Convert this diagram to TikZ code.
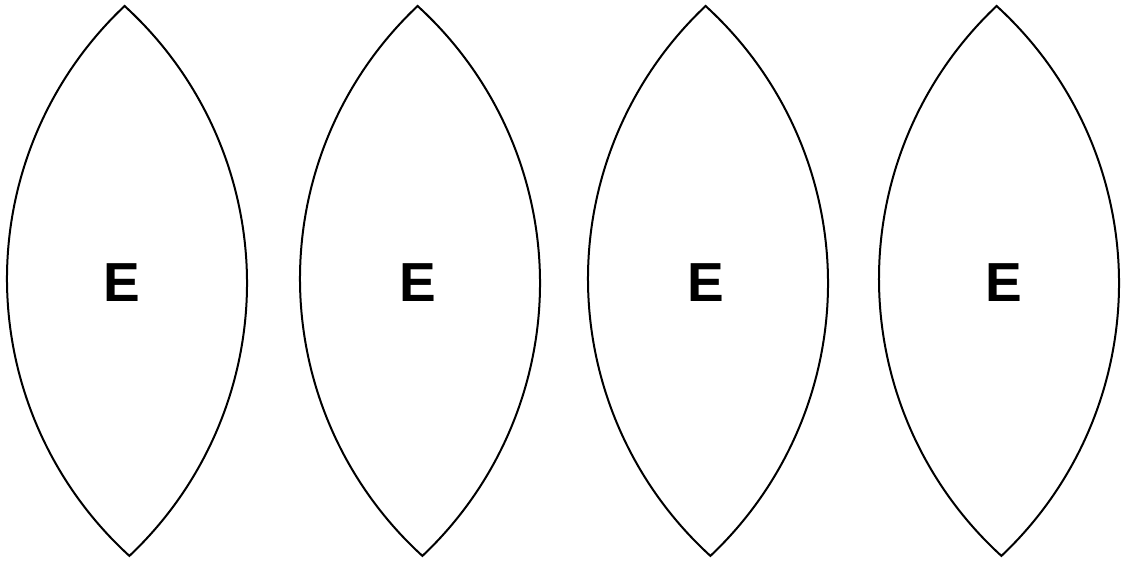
\documentclass[tikz,border=0pt]{standalone}
\usepackage{fontspec}
\setmainfont{Liberation Sans}
\begin{document}
\begin{tikzpicture}[x=1pt,y=1pt,
  lens/.style={draw=black, line width=2pt, line join=miter, miter limit=20},
  lbl/.style={font=\fontsize{55}{60}\selectfont\bfseries, inner sep=0pt}]
\useasboundingbox (0,0) rectangle (1131,561);
\foreach \cx/\ex/\nm in {127/122/a, 420/418/b, 708/706/c, 999/1004/d}{
  \begin{scope}[rotate around={0.5:(\cx,280)}]
    \draw[lens] (\cx,555) arc[start angle=132.84, end angle=227.16, radius=375]
      arc[start angle=-47.16, end angle=47.16, radius=375] -- cycle;
  \end{scope}
  \node[lbl] (\nm) at (\ex,278) {E};
}
\end{tikzpicture}
\end{document}
